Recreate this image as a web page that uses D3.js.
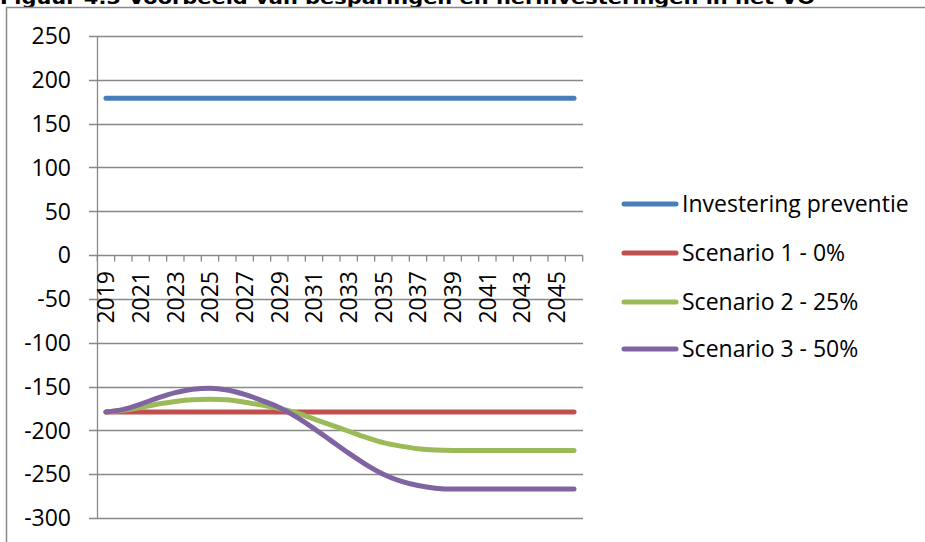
<!DOCTYPE html>
<html><head><meta charset="utf-8">
<script src="https://cdn.jsdelivr.net/npm/d3@7"></script>
<style>body{margin:0;background:#fff}svg{display:block}</style>
</head><body>
<svg id="c" width="925" height="542"></svg>
<script>
const years = d3.range(2019, 2047);
const yTicks = [250,200,150,100,50,0,-50,-100,-150,-200,-250,-300];
const seriesNames = ["Investering preventie","Scenario 1 - 0%","Scenario 2 - 25%","Scenario 3 - 50%"];
const seriesColors = ["#4A7EBB","#C0504D","#9BBB59","#8064A2"];
const investering = [179,179,179,179,179,179,179,179,179,179,179,179,179,179,179,179,179,179,179,179,179,179,179,179,179,179,179,179];
const scenario1 = [-179,-179,-179,-179,-179,-179,-179,-179,-179,-179,-179,-179,-179,-179,-179,-179,-179,-179,-179,-179,-179,-179,-179,-179,-179,-179,-179,-179];
const scenario2 = [-179,-177,-174,-170,-167,-165,-164.5,-165,-168,-171,-175,-180,-187,-194,-201,-208,-214,-218,-221,-222.5,-223,-223,-223,-223,-223,-223,-223,-223];
const scenario3 = [-179,-176,-170,-163,-157,-153,-152,-154,-159,-166,-174,-185,-198,-212,-226,-239,-250,-258,-263,-266,-267,-267,-267,-267,-267,-267,-267,-267];
const seriesData = [investering, scenario1, scenario2, scenario3];
const title = "Figuur 4.5 Voorbeeld van besparingen en herinvesteringen in het VO";

const svg = d3.select("#c");
const font = "'Open Sans', Lato, sans-serif";
const fs = 23;
const grid = "#898989";

// title (top clipped, as in the reference)
svg.append("text").attr("x",0).attr("y",4)
  .attr("font-family","'DejaVu Sans', Verdana, sans-serif").attr("font-weight","bold")
  .attr("font-size",17).attr("fill","#000")
  .attr("textLength",815).attr("lengthAdjust","spacingAndGlyphs").text(title);

// chart border
svg.append("rect").attr("x",6.5).attr("y",7.5).attr("width",930).attr("height",560)
  .attr("fill","none").attr("stroke",grid).attr("stroke-width",1.5);

const x = d3.scaleBand().domain(years).range([97.3, 582.7]).paddingInner(0).paddingOuter(0);
const y = d3.scaleLinear().domain([-300, 250]).range([518, 36]);

// gridlines
svg.append("g").selectAll("line").data(yTicks).join("line")
  .attr("x1",89).attr("x2",583).attr("y1",d=>Math.round(y(d))+0.5).attr("y2",d=>Math.round(y(d))+0.5)
  .attr("stroke",grid).attr("stroke-width",1.3);

// y axis line
svg.append("line").attr("x1",97.5).attr("x2",97.5).attr("y1",y(250)).attr("y2",y(-300))
  .attr("stroke",grid).attr("stroke-width",1.3);

// y labels
svg.append("g").selectAll("text").data(yTicks).join("text")
  .attr("x",71).attr("y",d=>y(d)).attr("dy","0.36em").attr("text-anchor","end")
  .attr("font-family",font).attr("font-size",fs).attr("fill","#000").text(d=>d);

// x axis ticks at band boundaries
const y0 = Math.round(y(0))+0.5;
const bounds = years.map(d=>x(d)).concat([x.range()[1]]);
svg.append("g").selectAll("line").data(bounds).join("line")
  .attr("x1",d=>d).attr("x2",d=>d).attr("y1",y0).attr("y2",y0+6)
  .attr("stroke",grid).attr("stroke-width",1.3);

// x labels (every other year)
svg.append("g").selectAll("text").data(years.filter((d,i)=>i%2===0)).join("text")
  .attr("transform",d=>`translate(${x(d)+x.bandwidth()/2},271) rotate(-90)`)
  .attr("text-anchor","end").attr("dy","0.36em")
  .attr("font-family",font).attr("font-size",fs).attr("fill","#000").text(d=>d);

// lines
const line = d3.line().x((d,i)=>x(years[i])+x.bandwidth()/2).y(d=>y(d)).curve(d3.curveMonotoneX);
svg.append("g").selectAll("path").data(seriesData).join("path")
  .attr("d",d=>line(d)).attr("fill","none")
  .attr("stroke",(d,i)=>seriesColors[i]).attr("stroke-width",5)
  .attr("stroke-linecap","round").attr("stroke-linejoin","round");

// legend
const legY = [204,253,302,349];
const leg = svg.append("g").selectAll("g").data(seriesNames).join("g")
  .attr("transform",(d,i)=>`translate(0,${legY[i]})`);
leg.append("line").attr("x1",624).attr("x2",676).attr("y1",0).attr("y2",0)
  .attr("stroke",(d,i)=>seriesColors[i]).attr("stroke-width",5).attr("stroke-linecap","round");
leg.append("text").attr("x",682).attr("y",0).attr("dy","0.36em")
  .attr("font-family",font).attr("font-size",fs).attr("fill","#000").text(d=>d);
</script>
</body></html>
